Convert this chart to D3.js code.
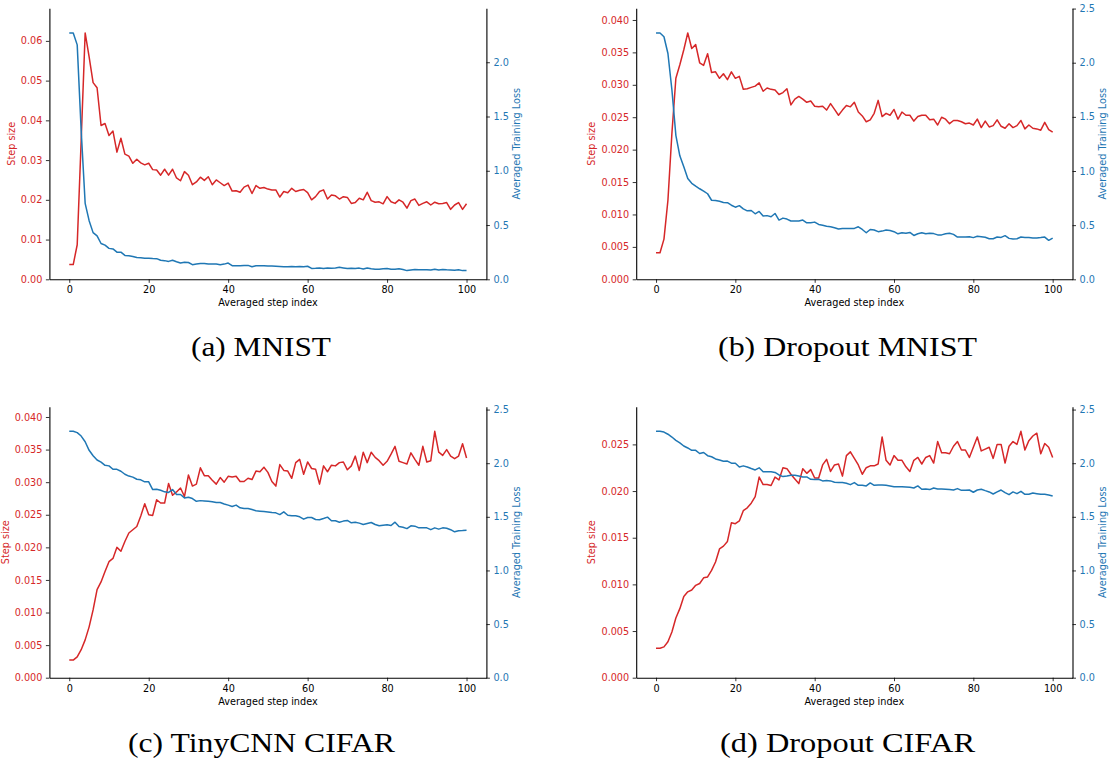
<!DOCTYPE html>
<html>
<head>
<meta charset="utf-8">
<script src="https://cdn.jsdelivr.net/npm/d3@7/dist/d3.min.js"></script>
<style>
  html, body { margin: 0; padding: 0; background: #fff; }
  svg { display: block; }
</style>
</head>
<body>
<svg id="chart" width="1113" height="764"></svg>
<script>
// ---------------- DATA ----------------
const xTicks = [0, 20, 40, 60, 80, 100];
const xLabel = "Averaged step index";
const leftLabel = "Step size";
const rightLabel = "Averaged Training Loss";
const captions = ["(a) MNIST", "(b) Dropout MNIST", "(c) TinyCNN CIFAR", "(d) Dropout CIFAR"];

const stepTicksA = [0, 0.01, 0.02, 0.03, 0.04, 0.05, 0.06];
const stepTicksB = [0, 0.005, 0.01, 0.015, 0.02, 0.025, 0.03, 0.035, 0.04];
const stepTicksC = [0, 0.005, 0.01, 0.015, 0.02, 0.025, 0.03, 0.035, 0.04];
const stepTicksD = [0, 0.005, 0.01, 0.015, 0.02, 0.025];
const lossTicks = [0, 0.5, 1.0, 1.5, 2.0, 2.5];

const mnistStep = [0.0037,0.0037,0.0087,0.035,0.062,0.056,0.0495,0.0482,0.0387,0.0392,
0.0362,0.0373,0.032,0.0355,0.0315,0.031,0.0292,0.0302,0.0293,0.0288,
0.0292,0.0276,0.0275,0.0262,0.0277,0.0262,0.0277,0.0255,0.0248,0.0271,
0.0262,0.0238,0.0245,0.0257,0.0249,0.0258,0.0238,0.025,0.0243,0.0236,
0.0242,0.0222,0.0223,0.0219,0.0232,0.0237,0.0216,0.0236,0.0229,0.0231,
0.0227,0.0225,0.0225,0.0207,0.0221,0.0218,0.0229,0.0221,0.0224,0.0226,
0.0218,0.0200,0.0208,0.0221,0.0225,0.0202,0.0212,0.0210,0.0202,0.0208,
0.0206,0.0191,0.0193,0.0204,0.0200,0.0219,0.0198,0.0194,0.0195,0.0190,
0.0208,0.0195,0.0191,0.0200,0.0194,0.0179,0.0198,0.0202,0.0186,0.0191,
0.0195,0.0187,0.0194,0.0190,0.0191,0.0193,0.0176,0.0187,0.0193,0.0176,0.0190];

const mnistLoss = [2.27,2.27,2.16,1.37,0.70,0.54,0.43,0.40,0.33,0.315,
0.285,0.28,0.25,0.25,0.22,0.217,0.21,0.20,0.198,0.195,
0.195,0.192,0.19,0.175,0.172,0.165,0.175,0.162,0.15,0.157,
0.155,0.135,0.14,0.145,0.145,0.14,0.14,0.142,0.135,0.14,
0.15,0.125,0.125,0.125,0.128,0.128,0.115,0.125,0.125,0.125,
0.122,0.122,0.12,0.118,0.115,0.115,0.118,0.115,0.118,0.115,
0.12,0.10,0.102,0.105,0.10,0.103,0.102,0.105,0.11,0.105,
0.10,0.102,0.10,0.103,0.095,0.105,0.097,0.092,0.093,0.097,
0.10,0.093,0.092,0.098,0.09,0.08,0.085,0.09,0.088,0.087,
0.088,0.085,0.093,0.085,0.09,0.087,0.085,0.083,0.087,0.08,0.08];

const dropMnistStep = [0.0041,0.0041,0.0062,0.0122,0.0225,0.031,0.0331,0.0354,0.038,0.0356,
0.0362,0.0334,0.033,0.0348,0.0319,0.032,0.031,0.0317,0.0308,0.032,
0.031,0.0313,0.0293,0.0294,0.0296,0.0298,0.0303,0.029,0.0295,0.0293,
0.0292,0.0285,0.0288,0.0294,0.0269,0.0278,0.0282,0.0278,0.0273,0.0275,
0.0267,0.0266,0.0267,0.0261,0.0271,0.0262,0.0253,0.0261,0.0268,0.0266,
0.0273,0.0258,0.0252,0.0243,0.0246,0.0256,0.0276,0.0251,0.0256,0.0253,
0.0262,0.0247,0.0258,0.0253,0.0253,0.0244,0.0251,0.0253,0.0253,0.0246,
0.0247,0.0238,0.025,0.0247,0.024,0.0245,0.0245,0.0243,0.024,0.0241,
0.0238,0.0247,0.0234,0.0244,0.0235,0.0237,0.0246,0.0236,0.0233,0.024,
0.0234,0.0237,0.0245,0.0232,0.0238,0.0233,0.0232,0.023,0.0242,0.0231,0.0227];

const dropMnistLoss = [2.275,2.275,2.24,2.085,1.75,1.33,1.14,1.04,0.93,0.886,
0.86,0.836,0.815,0.79,0.73,0.728,0.72,0.71,0.708,0.684,
0.666,0.68,0.65,0.632,0.635,0.605,0.627,0.585,0.588,0.578,
0.608,0.547,0.565,0.556,0.538,0.538,0.538,0.547,0.522,0.522,
0.528,0.507,0.5,0.49,0.485,0.476,0.465,0.47,0.47,0.47,
0.47,0.485,0.46,0.43,0.46,0.455,0.44,0.445,0.455,0.45,
0.44,0.42,0.43,0.425,0.433,0.405,0.42,0.43,0.42,0.425,
0.422,0.41,0.41,0.42,0.425,0.415,0.39,0.39,0.39,0.393,
0.385,0.397,0.393,0.388,0.375,0.375,0.39,0.387,0.403,0.378,
0.372,0.375,0.39,0.387,0.385,0.382,0.382,0.385,0.39,0.36,0.38];

const cnnStep = [0.0027,0.0027,0.0032,0.0043,0.0058,0.0078,0.0104,0.0135,0.0147,0.0163,
0.0178,0.0183,0.02,0.0194,0.0209,0.0222,0.0227,0.0232,0.0248,0.0267,
0.025,0.0249,0.0273,0.0268,0.0268,0.0298,0.028,0.0285,0.0291,0.0278,
0.0311,0.0294,0.0297,0.0322,0.031,0.031,0.0303,0.0297,0.0307,0.03,
0.0309,0.0308,0.0309,0.0301,0.0301,0.0306,0.0304,0.0317,0.0316,0.0323,
0.0315,0.0301,0.0294,0.0327,0.0318,0.0317,0.0306,0.033,0.0335,0.0312,
0.0331,0.0321,0.032,0.0297,0.0325,0.0316,0.0326,0.0325,0.033,0.0331,
0.0319,0.0325,0.034,0.0318,0.0346,0.033,0.0346,0.0338,0.0333,0.0326,
0.0332,0.0343,0.0355,0.0332,0.033,0.0328,0.0345,0.0335,0.0326,0.0355,
0.0331,0.0333,0.0378,0.0346,0.0341,0.035,0.034,0.0336,0.034,0.0359,0.0337];

const cnnLoss = [2.297,2.297,2.285,2.253,2.2,2.12,2.07,2.03,2.01,1.98,
1.975,1.943,1.943,1.925,1.897,1.88,1.87,1.85,1.845,1.826,
1.826,1.754,1.757,1.748,1.733,1.727,1.754,1.708,1.708,1.676,
1.682,1.67,1.645,1.651,1.648,1.645,1.64,1.633,1.633,1.62,
1.609,1.596,1.609,1.584,1.578,1.578,1.568,1.556,1.553,1.55,
1.546,1.54,1.537,1.521,1.546,1.515,1.509,1.509,1.5,1.478,
1.494,1.494,1.475,1.472,1.484,1.497,1.463,1.463,1.45,1.46,
1.466,1.444,1.45,1.441,1.428,1.438,1.447,1.428,1.416,1.422,
1.425,1.419,1.45,1.41,1.403,1.39,1.416,1.413,1.397,1.397,
1.397,1.38,1.397,1.385,1.397,1.394,1.38,1.36,1.37,1.372,1.375];

const dropCifarStep = [0.00315,0.00315,0.0033,0.00386,0.0049,0.0064,0.0074,0.0087,0.0092,0.0094,
0.0099,0.0101,0.0107,0.0108,0.0115,0.0124,0.0138,0.0141,0.0146,0.0166,
0.0165,0.0168,0.0179,0.0182,0.0187,0.0194,0.0215,0.0207,0.0207,0.0206,
0.0215,0.0212,0.0225,0.0224,0.0218,0.0213,0.0208,0.0224,0.0219,0.0223,
0.0214,0.0214,0.0228,0.0234,0.0221,0.0228,0.0229,0.0216,0.0238,0.0242,
0.0235,0.0228,0.0218,0.0225,0.0227,0.0227,0.0229,0.0258,0.0233,0.0228,
0.0238,0.0233,0.0233,0.0226,0.0221,0.0233,0.0236,0.0229,0.0236,0.0238,
0.023,0.0253,0.0241,0.0241,0.024,0.0248,0.0253,0.0244,0.0244,0.0236,
0.0247,0.0258,0.0243,0.0245,0.0247,0.0235,0.025,0.025,0.023,0.0248,
0.0253,0.025,0.0264,0.0244,0.0254,0.0259,0.0262,0.024,0.0251,0.0247,0.0236];

const dropCifarLoss = [2.297,2.297,2.29,2.27,2.244,2.213,2.19,2.16,2.142,2.12,
2.12,2.09,2.1,2.07,2.06,2.04,2.03,2.018,2.02,2.0,
2.0,1.965,1.975,1.965,1.95,1.937,1.957,1.92,1.92,1.92,
1.914,1.89,1.875,1.88,1.888,1.888,1.88,1.872,1.872,1.85,
1.847,1.85,1.835,1.838,1.835,1.823,1.82,1.819,1.813,1.80,
1.819,1.794,1.794,1.788,1.816,1.794,1.797,1.797,1.794,1.788,
1.781,1.781,1.781,1.778,1.775,1.769,1.788,1.757,1.76,1.754,
1.769,1.76,1.76,1.757,1.754,1.75,1.763,1.747,1.747,1.75,
1.729,1.75,1.757,1.744,1.732,1.713,1.732,1.75,1.726,1.707,
1.732,1.716,1.738,1.71,1.71,1.722,1.716,1.71,1.71,1.704,1.695];

// ---------------- DRAWING ----------------
const RED = "#d62728", BLUE = "#1f77b4";
const FONT = "DejaVu Sans, sans-serif";
const FS = 9.7;
const svg = d3.select("#chart");
svg.append("rect").attr("width", 1113).attr("height", 764).attr("fill", "#fff");

const panels = [
  {l: 49.4, r: 486.4, t: 8.3, b: 279.3, step: mnistStep, loss: mnistLoss, sTicks: stepTicksA, fmt: ".2f",
   lLabX: 11.7, rLabX: 516.7, cap: captions[0], capX: 261, capY: 356, capW: 140},
  {l: 636.2, r: 1072.5, t: 8.3, b: 279.3, step: dropMnistStep, loss: dropMnistLoss, sTicks: stepTicksB, fmt: ".3f",
   lLabX: 591.7, rLabX: 1103, cap: captions[1], capX: 847.5, capY: 356, capW: 259},
  {l: 49.4, r: 486.4, t: 406.7, b: 677.7, step: cnnStep, loss: cnnLoss, sTicks: stepTicksC, fmt: ".3f",
   lLabX: 5.5, rLabX: 516.7, cap: captions[2], capX: 261.5, capY: 752, capW: 267},
  {l: 636.2, r: 1072.5, t: 406.7, b: 677.7, step: dropCifarStep, loss: dropCifarLoss, sTicks: stepTicksD, fmt: ".3f",
   lLabX: 591.7, rLabX: 1103, cap: captions[3], capX: 847.5, capY: 752, capW: 255}
];

function styleAxis(g, color) {
  g.select(".domain").attr("stroke", "#000").attr("stroke-width", 1.1);
  g.selectAll(".tick line").attr("stroke", "#000").attr("stroke-width", 0.8);
  g.selectAll(".tick text").attr("fill", color).style("font-family", FONT).style("font-size", FS + "px");
}

panels.forEach(p => {
  const idx = p.step.map((_, i) => i);
  const x = d3.scaleLinear().domain([-5, 105]).range([p.l, p.r]);
  const yL = d3.scaleLinear().domain([0, d3.max(p.step) * 1.1]).range([p.b, p.t]);
  const yR = d3.scaleLinear().domain([0, d3.max(p.loss) * 1.1]).range([p.b, p.t]);

  const g = svg.append("g");

  // lines
  const lineL = d3.line().x((d, i) => x(idx[i])).y(d => yL(d));
  const lineR = d3.line().x((d, i) => x(idx[i])).y(d => yR(d));
  g.append("path").datum(p.step).attr("d", lineL).attr("fill", "none")
    .attr("stroke", RED).attr("stroke-width", 1.5).attr("stroke-linejoin", "round");
  g.append("path").datum(p.loss).attr("d", lineR).attr("fill", "none")
    .attr("stroke", BLUE).attr("stroke-width", 1.5).attr("stroke-linejoin", "round");

  // axes
  const ax = g.append("g").attr("transform", `translate(0,${p.b})`)
    .call(d3.axisBottom(x).tickValues(xTicks).tickFormat(d3.format("d")).tickSize(3.5).tickPadding(3.5).tickSizeOuter(0));
  styleAxis(ax, "#000");

  const al = g.append("g").attr("transform", `translate(${p.l},0)`)
    .call(d3.axisLeft(yL).tickValues(p.sTicks).tickFormat(d3.format(p.fmt)).tickSize(3.5).tickPadding(3.5).tickSizeOuter(0));
  styleAxis(al, RED);

  const rt = lossTicks.filter(v => v <= yR.domain()[1] + 1e-9);
  const ar = g.append("g").attr("transform", `translate(${p.r},0)`)
    .call(d3.axisRight(yR).tickValues(rt).tickFormat(d3.format(".1f")).tickSize(3.5).tickPadding(3.5).tickSizeOuter(0));
  styleAxis(ar, BLUE);

  // axis labels
  g.append("text").attr("x", (p.l + p.r) / 2).attr("y", p.b + 27)
    .attr("text-anchor", "middle").style("font-family", FONT).style("font-size", FS + "px")
    .attr("fill", "#000").text(xLabel);
  g.append("text").attr("transform", `translate(${p.lLabX},${(p.t + p.b) / 2}) rotate(-90)`)
    .attr("dy", "0.35em").attr("text-anchor", "middle").style("font-family", FONT).style("font-size", FS + "px")
    .attr("fill", RED).text(leftLabel);
  g.append("text").attr("transform", `translate(${p.rLabX},${(p.t + p.b) / 2}) rotate(-90)`)
    .attr("dy", "0.35em").attr("text-anchor", "middle").style("font-family", FONT).style("font-size", FS + "px")
    .attr("fill", BLUE).text(rightLabel);

  // caption
  svg.append("text").attr("x", p.capX).attr("y", p.capY).attr("text-anchor", "middle")
    .style("font-family", "Liberation Serif, serif").style("font-size", "28px")
    .attr("textLength", p.capW).attr("lengthAdjust", "spacingAndGlyphs")
    .attr("fill", "#000").text(p.cap);
});
</script>
</body>
</html>
